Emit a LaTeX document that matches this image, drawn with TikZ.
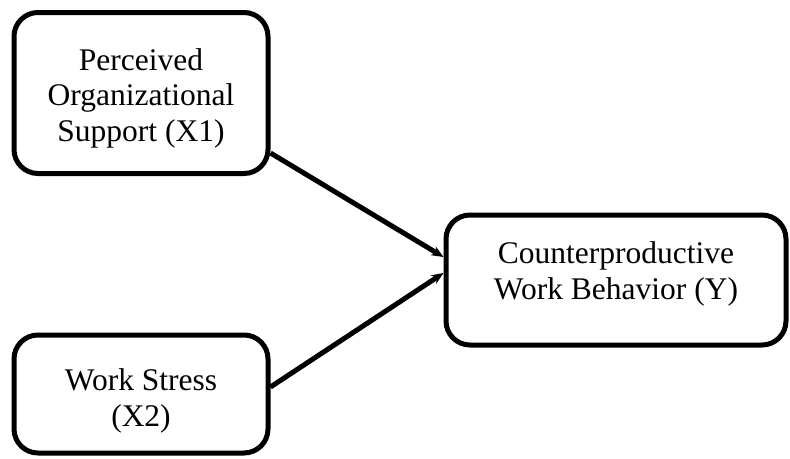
\documentclass[tikz,border=0pt]{standalone}
\usepackage{fontspec}
\setmainfont{Liberation Serif}
\usetikzlibrary{arrows.meta}
\begin{document}
\begin{tikzpicture}[x=1pt,y=1pt,
  box/.style={draw=black, line width=5pt, rounded corners=24pt, fill=white, inner sep=0pt},
  txt/.style={align=center, font=\fontsize{31.5}{35.5}\selectfont, inner sep=0pt},
  conn/.style={line width=5pt, -{Stealth[length=12pt,width=10pt,inset=4pt]}}]
\useasboundingbox (0,0) rectangle (790,-458);
\node[box, minimum width=254pt, minimum height=161pt] (x1) at (141,-93) {};
\node[txt] (x1t) at (141,-98) {Perceived\\Organizational\\Support (X1)};
\node[box, minimum width=340pt, minimum height=130pt] (y) at (616,-280) {};
\node[txt] (yt) at (616,-274) {Counterproductive\\Work Behavior (Y)};
\node[box, minimum width=254pt, minimum height=118pt] (x2) at (141,-394) {};
\node[txt] (x2t) at (141,-401) {Work Stress\\(X2)};
\draw[conn] ([yshift=-60pt]x1.east) -- ([yshift=23pt]y.west);
\draw[conn] ([yshift=7pt]x2.east) -- ([yshift=7pt]y.west);
\end{tikzpicture}
\end{document}
